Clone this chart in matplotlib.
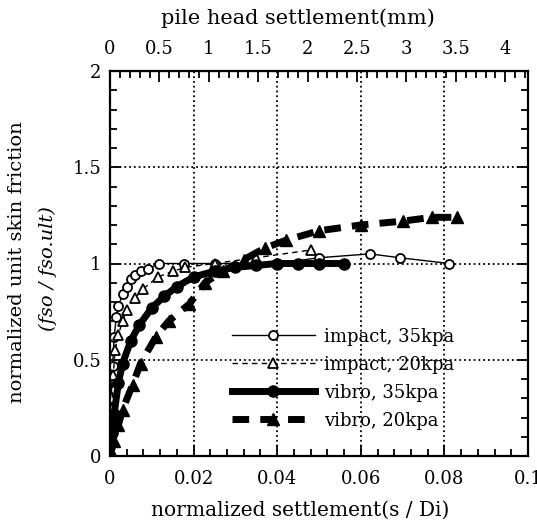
import matplotlib
matplotlib.use("Agg")
import matplotlib.pyplot as plt
from matplotlib.ticker import MultipleLocator

plt.rcParams['font.family'] = ['DejaVu Serif']

# impact, 35kpa (thin solid, open circles)
imp35_x = [0.0, 0.0003, 0.0006, 0.001, 0.0015, 0.002, 0.003, 0.004, 0.005, 0.006, 0.0075, 0.009, 0.0117, 0.0178, 0.025, 0.04, 0.05, 0.0622, 0.0693, 0.0812]
imp35_y = [0.0, 0.3, 0.47, 0.62, 0.72, 0.78, 0.84, 0.88, 0.92, 0.94, 0.96, 0.97, 1.0, 1.0, 1.0, 1.0, 1.03, 1.05, 1.03, 1.0]

# impact, 20kpa (thin dashed, open triangles)
imp20_x = [0.0, 0.0004, 0.0008, 0.0012, 0.002, 0.003, 0.004, 0.006, 0.008, 0.0115, 0.015, 0.018, 0.025, 0.035, 0.048]
imp20_y = [0.0, 0.25, 0.42, 0.55, 0.63, 0.70, 0.76, 0.82, 0.87, 0.93, 0.96, 0.98, 1.0, 1.03, 1.07]

# vibro, 35kpa (thick solid, filled circles)
vib35_x = [0.0, 0.0005, 0.001, 0.002, 0.003, 0.005, 0.007, 0.01, 0.013, 0.016, 0.02, 0.025, 0.03, 0.035, 0.04, 0.045, 0.05, 0.056]
vib35_y = [0.0, 0.12, 0.22, 0.38, 0.48, 0.60, 0.68, 0.77, 0.83, 0.88, 0.93, 0.96, 0.98, 0.99, 1.0, 1.0, 1.0, 1.0]

# vibro, 20kpa (thick dashed, filled triangles)
vib20_x = [0.0, 0.001, 0.002, 0.003, 0.0054, 0.0073, 0.011, 0.014, 0.019, 0.0227, 0.027, 0.032, 0.037, 0.042, 0.05, 0.06, 0.07, 0.077, 0.083]
vib20_y = [0.0, 0.08, 0.16, 0.24, 0.37, 0.48, 0.62, 0.70, 0.79, 0.90, 0.96, 1.02, 1.08, 1.12, 1.17, 1.20, 1.22, 1.24, 1.24]

labels = ["impact, 35kpa", "impact, 20kpa", "vibro, 35kpa", "vibro, 20kpa"]
x_ticks = [0, 0.02, 0.04, 0.06, 0.08, 0.1]
x_ticklabels = ["0", "0.02", "0.04", "0.06", "0.08", "0.1"]
y_ticks = [0, 0.5, 1, 1.5, 2]
y_ticklabels = ["0", "0.5", "1", "1.5", "2"]
mm_ticks = [0, 0.5, 1, 1.5, 2, 2.5, 3, 3.5, 4]
mm_ticklabels = ["0", "0.5", "1", "1.5", "2", "2.5", "3", "3.5", "4"]
mm_per_unit = 42.3

fig = plt.figure(figsize=(5.37, 5.31), dpi=100)
ax = fig.add_axes([110/537, 1-456/531, (528-110)/537, (456-71)/531])

ax.plot(imp35_x, imp35_y, '-', color='black', lw=1.0, marker='o', ms=6.5,
        mfc='white', mec='black', mew=1.3, label=labels[0])
ax.plot(imp20_x, imp20_y, '--', color='black', lw=1.0, marker='^', ms=6.5,
        mfc='white', mec='black', mew=1.3, dashes=(4, 3), label=labels[1])
ax.plot(vib35_x, vib35_y, '-', color='black', lw=5, marker='o', ms=8,
        mfc='black', mec='black', label=labels[2])
ax.plot(vib20_x, vib20_y, '--', color='black', lw=5, marker='^', ms=8,
        mfc='black', mec='black', dashes=(2.4, 1.6), label=labels[3])

ax.set_xlim(0, 0.1)
ax.set_ylim(0, 2)
ax.xaxis.set_minor_locator(MultipleLocator(0.004))
ax.yaxis.set_minor_locator(MultipleLocator(0.1))
ax.set_xticks(x_ticks)
ax.set_xticklabels(x_ticklabels)
ax.set_yticks(y_ticks)
ax.set_yticklabels(y_ticklabels)
ax.tick_params(which='both', direction='in', right=True, labelsize=13, width=1.3)
ax.tick_params(which='major', length=8)
ax.tick_params(which='minor', length=5)
ax.tick_params(axis='x', which='both', top=False, pad=10)
ax.tick_params(axis='y', pad=6)
ax.grid(True, which='major', linestyle=':', color='black', lw=1.3)
for s in ax.spines.values():
    s.set_linewidth(1.6)

sec = ax.secondary_xaxis('top', functions=(lambda x: x*mm_per_unit, lambda m: m/mm_per_unit))
sec.set_xticks(mm_ticks)
sec.set_xticklabels(mm_ticklabels)
sec.xaxis.set_minor_locator(MultipleLocator(0.1))
sec.tick_params(which='both', direction='in', labelsize=13, width=1.3, pad=9)
sec.tick_params(which='major', length=8)
sec.tick_params(which='minor', length=5)

leg = ax.legend(loc='lower right', bbox_to_anchor=(0.84, 0.05), frameon=False,
                fontsize=13, handlelength=4.6, labelspacing=0.55,
                handletextpad=0.5, borderaxespad=0)

fig.text(300/537, 1-510/531, "normalized settlement(s / Di)", ha='center', va='center', fontsize=14.5)
fig.text(298/537, 1-18/531, "pile head settlement(mm)", ha='center', va='center', fontsize=15)
fig.text(17/537, 1-262/531, "normalized unit skin friction", ha='center', va='center',
         rotation=90, fontsize=14)
fig.text(48/537, 1-269/531, "(fso / fso.ult)", ha='center', va='center',
         rotation=90, fontsize=14, style='italic')

fig.savefig("out.png", dpi=100)
